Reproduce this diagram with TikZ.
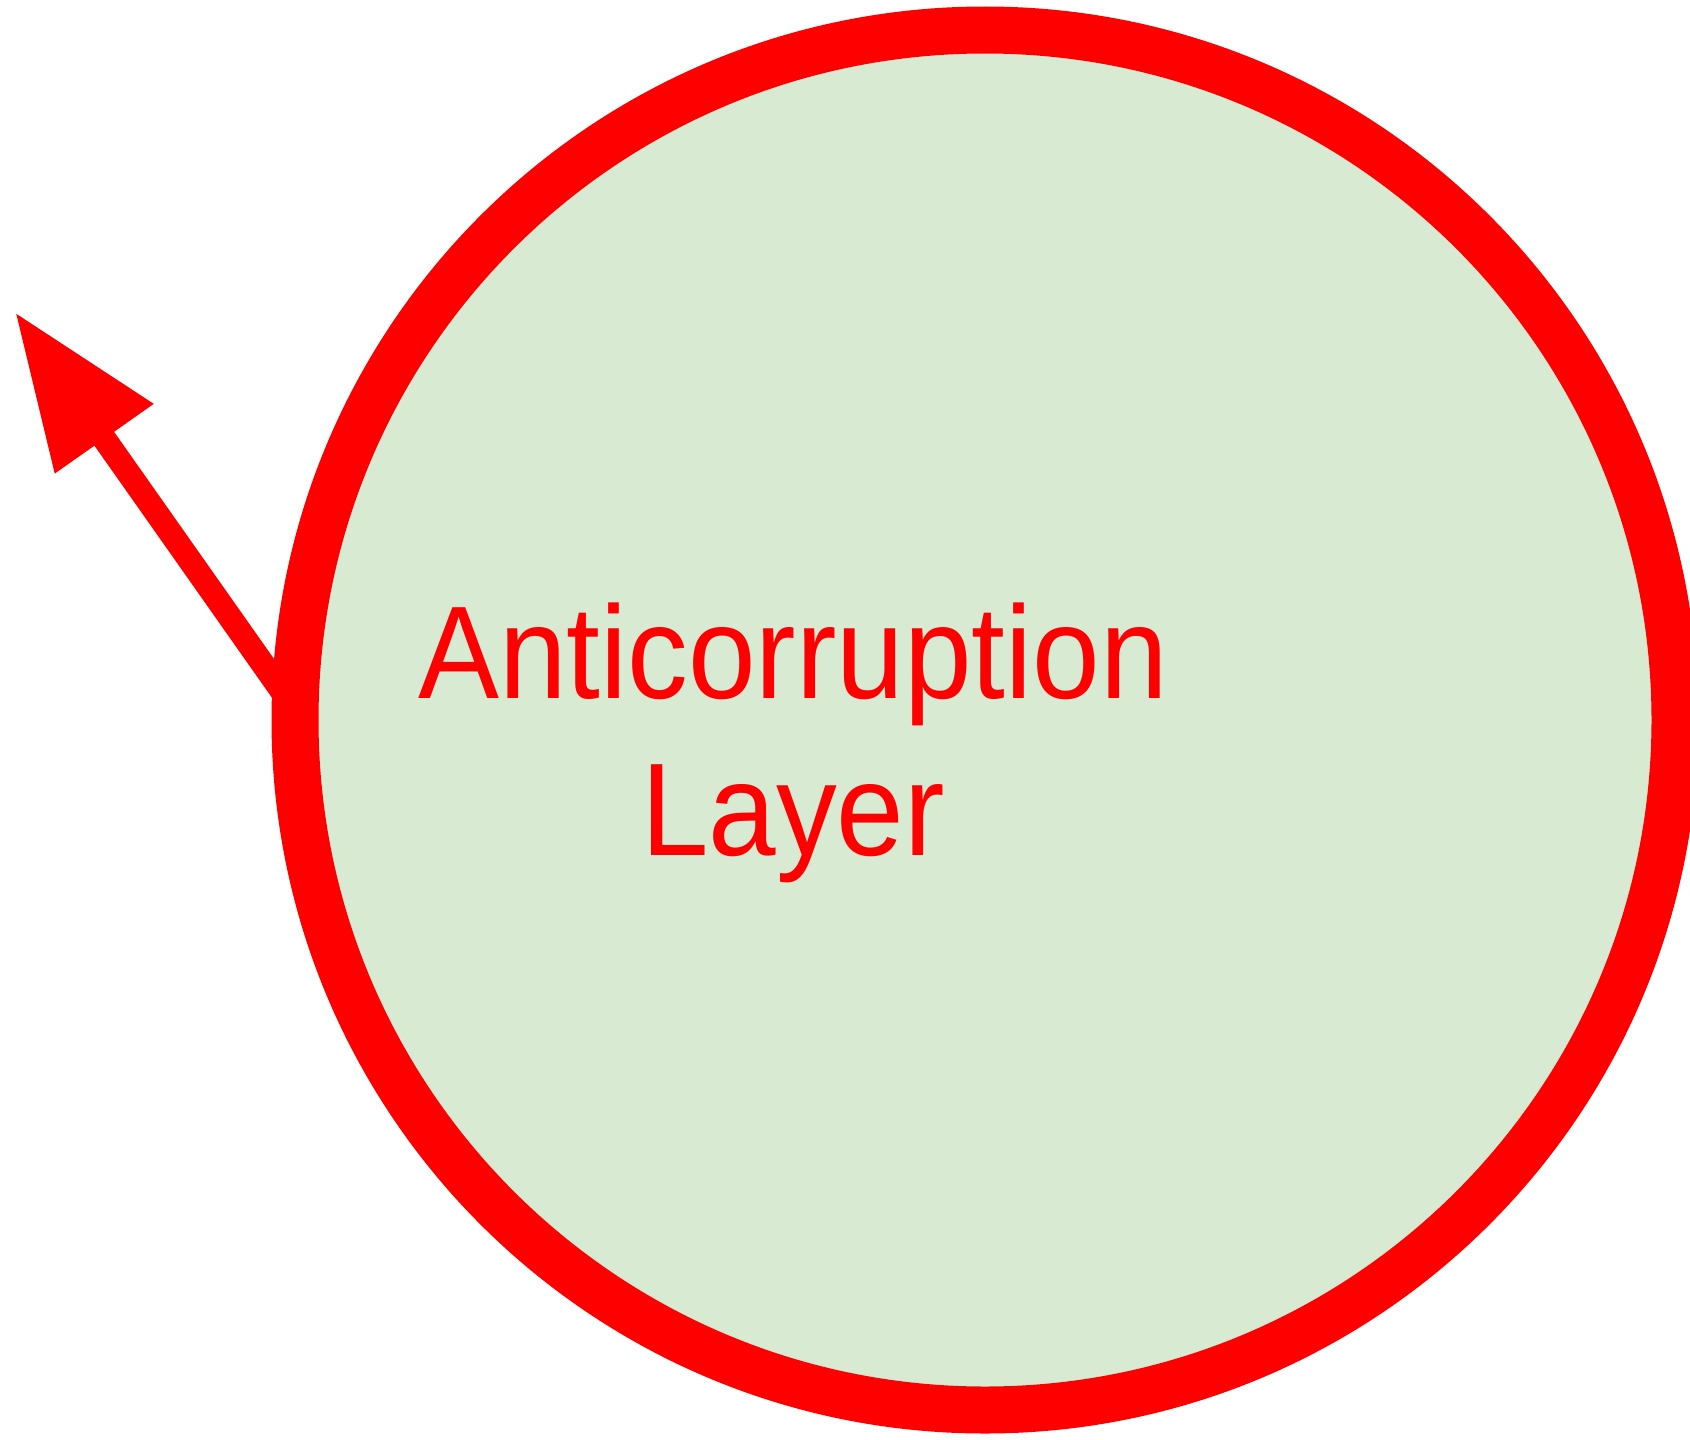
\documentclass[tikz,border=0pt]{standalone}
\usepackage{fontspec}
\setmainfont{Liberation Sans}
\usetikzlibrary{arrows.meta}
\definecolor{ringred}{HTML}{FF0000}
\definecolor{layergreen}{HTML}{D9EAD3}
\begin{document}
\begin{tikzpicture}[x=1pt,y=-1pt,
  ringstyle/.style={circle, draw=ringred, fill=layergreen, line width=47pt,
    minimum size=1380pt, inner sep=0pt, outer sep=0pt},
  labelstyle/.style={text=ringred, align=center, inner sep=0pt,
    font=\fontsize{132}{157}\selectfont, xscale=0.92},
  outarrow/.style={draw=ringred, line width=24pt,
    -{Triangle[length=155pt,width=114pt]}}
]
\useasboundingbox (0,0) rectangle (1690,1440);

% the arrow leaving the layer, drawn first so the ring covers its tail
\coordinate (tip) at (15,312);
\coordinate (tail) at (296,711);
\draw[outarrow] (tail) -- (tip);

% the layer itself
\node[ringstyle] (ring) at (985,720) {};

% its name (base anchor sits on the last line)
\node[labelstyle, anchor=base] (name) at (793,855) {Anticorruption\\Layer};
\end{tikzpicture}
\end{document}
